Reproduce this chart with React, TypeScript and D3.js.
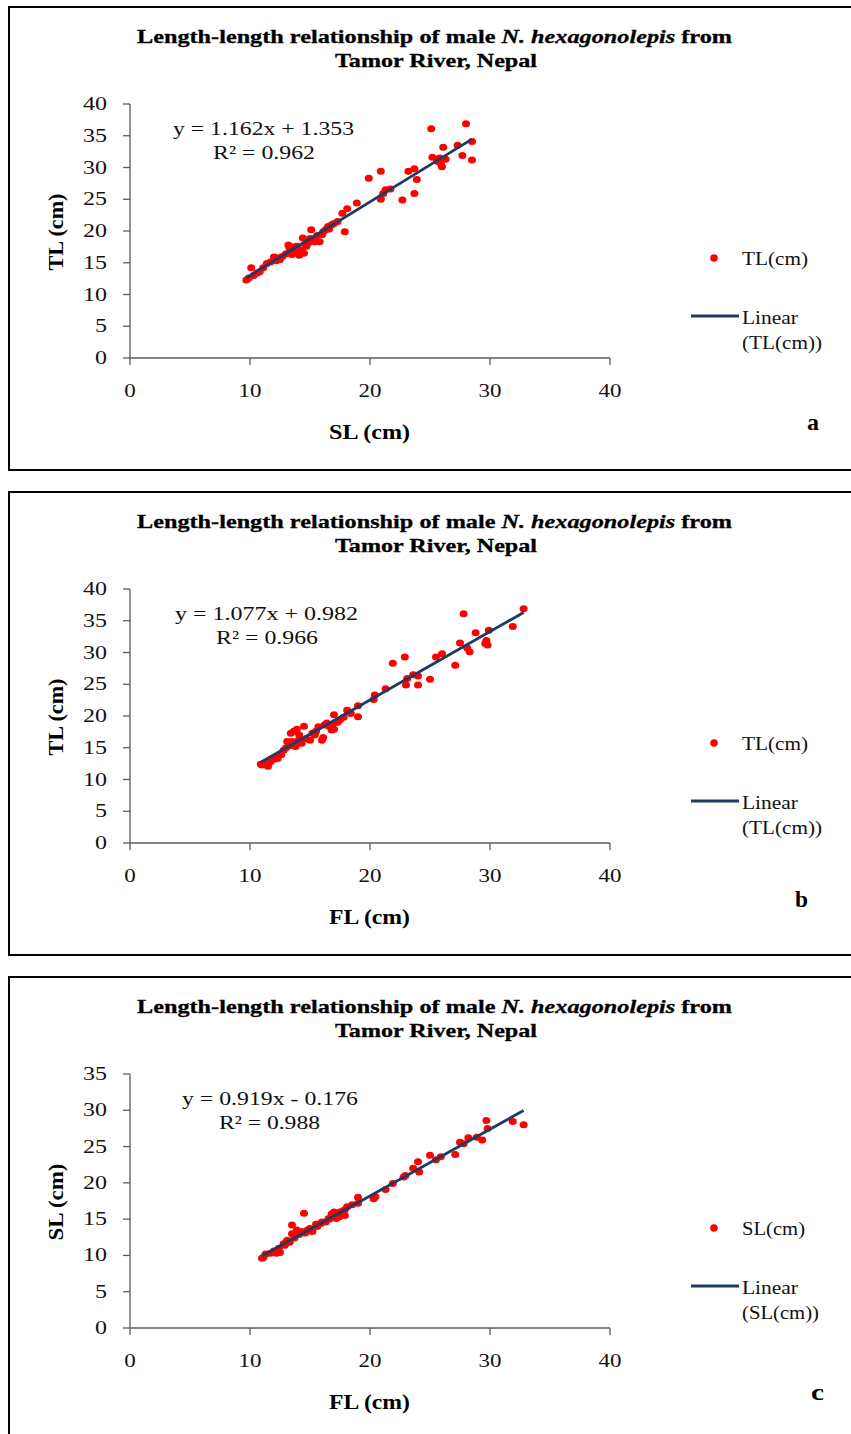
import React from 'react';
import * as d3 from 'd3';

// ---------- data ----------
const aSL = [9.7, 9.9, 10.1, 10.3, 10.6, 10.8, 11.1, 11.4, 11.7, 12.0, 12.2, 12.5, 12.7, 13.0, 13.2, 13.3, 13.5, 13.7, 13.9, 14.1, 14.3, 14.5, 14.4, 14.7, 14.9, 15.1, 15.2, 15.4, 15.6, 15.8, 16.1, 16.3, 16.5, 16.8, 17.0, 17.3, 17.7, 17.9, 18.1, 18.9, 19.9, 20.9, 20.9, 21.1, 21.3, 21.7, 22.7, 23.2, 23.7, 23.7, 23.9, 25.1, 25.2, 25.6, 25.8, 25.9, 26.0, 26.1, 26.3, 27.3, 27.7, 28.0, 28.5, 28.5, 12.4, 13.6, 14.0, 14.6, 15.0, 16.0, 16.6];
const aTL = [12.3, 12.6, 14.2, 13.0, 13.4, 13.6, 14.2, 14.9, 15.1, 15.9, 15.3, 15.5, 16.0, 16.4, 17.8, 17.3, 16.3, 16.7, 17.6, 16.2, 17.0, 16.5, 18.9, 17.6, 18.2, 20.2, 18.6, 18.3, 19.3, 18.3, 19.9, 20.2, 20.7, 21.0, 21.2, 21.5, 22.8, 19.9, 23.5, 24.4, 28.3, 29.4, 25.0, 25.9, 26.5, 26.6, 24.9, 29.4, 29.8, 25.9, 28.1, 36.1, 31.6, 31.0, 31.5, 30.6, 30.1, 33.2, 31.3, 33.5, 31.9, 36.9, 34.1, 31.2, 15.8, 17.5, 16.5, 17.9, 18.8, 19.4, 20.3];

const bFL = [10.9, 11.0, 11.3, 11.5, 11.7, 12.0, 12.3, 12.6, 12.8, 13.1, 13.3, 13.4, 13.5, 13.65, 13.8, 13.9, 14.1, 14.3, 14.5, 14.7, 15.0, 15.2, 15.5, 15.7, 16.0, 16.1, 16.2, 16.4, 16.6, 16.8, 17.0, 17.0, 17.3, 17.5, 17.8, 18.1, 18.4, 19.0, 19.0, 20.3, 20.4, 21.3, 21.9, 22.9, 23.0, 23.1, 23.6, 24.0, 24.0, 25.0, 25.5, 26.0, 27.1, 27.5, 27.8, 28.1, 28.3, 28.8, 29.6, 29.7, 29.8, 29.9, 31.9, 32.8, 12.2, 13.0, 14.0, 15.4, 16.9];
const bTL = [12.4, 12.3, 12.6, 12.1, 12.8, 13.2, 13.3, 13.9, 14.6, 16.0, 15.3, 17.3, 16.0, 17.6, 15.2, 17.9, 17.0, 15.7, 18.4, 16.4, 16.2, 17.3, 17.6, 18.3, 16.2, 16.6, 18.6, 18.9, 18.4, 17.8, 20.2, 17.9, 19.0, 19.4, 19.8, 20.9, 20.4, 21.6, 19.9, 22.6, 23.3, 24.3, 28.3, 29.3, 24.9, 25.9, 26.5, 26.3, 24.9, 25.8, 29.3, 29.8, 28.0, 31.5, 36.1, 30.7, 30.1, 33.1, 31.4, 31.9, 31.2, 33.5, 34.1, 36.9, 13.6, 15.0, 16.1, 17.0, 18.7];

const cFL = [11.0, 11.1, 11.3, 11.7, 12.0, 12.2, 12.4, 12.5, 12.8, 13.1, 13.3, 13.5, 13.5, 13.7, 13.9, 14.1, 14.3, 14.5, 14.8, 15.0, 15.2, 15.5, 15.6, 15.9, 16.0, 16.3, 16.55, 16.8, 17.0, 17.2, 17.4, 17.5, 17.9, 17.9, 18.1, 18.5, 19.0, 19.0, 20.3, 20.45, 21.3, 21.9, 22.8, 22.95, 23.6, 24.0, 24.1, 25.0, 25.5, 25.9, 27.1, 27.5, 27.8, 28.2, 28.9, 29.35, 29.7, 29.8, 31.9, 32.8, 12.9, 14.6, 16.6, 17.7];
const cSL = [9.6, 9.7, 10.2, 10.3, 10.6, 10.3, 11.0, 10.4, 11.6, 12.1, 11.8, 14.2, 13.0, 12.4, 13.5, 12.9, 13.3, 15.8, 13.5, 13.7, 13.3, 14.3, 14.0, 14.4, 14.6, 14.6, 15.1, 15.7, 16.0, 15.1, 15.3, 16.0, 15.5, 16.3, 16.7, 17.0, 18.0, 17.2, 17.8, 18.1, 19.1, 19.9, 20.8, 21.0, 22.0, 22.9, 21.5, 23.8, 23.2, 23.6, 23.9, 25.6, 25.4, 26.2, 26.3, 25.9, 28.6, 27.5, 28.45, 28.0, 11.4, 13.1, 15.0, 16.1];

const xTicks = [0, 10, 20, 30, 40];
const yTicksAB = [0, 5, 10, 15, 20, 25, 30, 35, 40];
const yTicksC = [0, 5, 10, 15, 20, 25, 30, 35];

const fitSlope = [1.162, 1.077, 0.919];
const fitIntercept = [1.353, 0.982, -0.176];
const fitFrom = [9.7, 10.9, 11.0];
const fitTo = [28.5, 32.8, 32.8];

const equationText = ['y = 1.162x + 1.353', 'y = 1.077x + 0.982', 'y = 0.919x - 0.176'];
const r2Text = ['R\u00B2 = 0.962', 'R\u00B2 = 0.966', 'R\u00B2 = 0.988'];
const xTitles = ['SL (cm)', 'FL (cm)', 'FL (cm)'];
const yTitles = ['TL (cm)', 'TL (cm)', 'SL (cm)'];
const seriesNames = ['TL(cm)', 'TL(cm)', 'SL(cm)'];
const panelLetters = ['a', 'b', 'c'];
const titleStart = 'Length-length relationship of male ';
const titleItalic = 'N. hexagonolepis';
const titleEnd = '  from';
const titleLine2 = 'Tamor River, Nepal';

const panelX = [aSL, bFL, cFL];
const panelY = [aTL, bTL, cSL];
const panelYMax = [40, 40, 35];
const panelYTicks = [yTicksAB, yTicksAB, yTicksC];

// ---------- layout ----------
const W = 851;
const H = 1434;
const SERIF = '"Liberation Serif", "Times New Roman", Times, serif';
const RED = '#ff0000';
const NAVY = '#1f3b62';
const AXIS = '#5b5b5b';
const eqLayout = [
  { ex: 173, ew: 181, rx: 213, rw: 102 },
  { ex: 175, ew: 183, rx: 216, rw: 102 },
  { ex: 182, ew: 176, rx: 219, rw: 101 },
];
const letterLayout = [
  { x: 807, dy: 430, w: 12 },
  { x: 795, dy: 422, w: 13 },
  { x: 811, dy: 430, w: 13 },
];

function Panel({ i }: { i: number }) {
  const off = i * 485;
  const x = d3.scaleLinear().domain([0, 40]).range([130, 610]);
  const y = d3.scaleLinear().domain([0, panelYMax[i]]).range([358 + off, 104 + off]);
  const xs = panelX[i];
  const ys = panelY[i];
  const line = d3
    .line<number>()
    .x((d) => x(d))
    .y((d) => y(fitSlope[i] * d + fitIntercept[i]));
  const fitPath = line([fitFrom[i], fitTo[i]]) || '';
  const eq = eqLayout[i];
  const lt = letterLayout[i];
  const yTitleCx = 56;
  const yTitleCy = 232 + off;

  return (
    <g>
      {/* frame */}
      <rect x={9} y={7 + off} width={W + 20} height={463} fill="none" stroke="#000" strokeWidth={2} />

      {/* title */}
      <text
        x={434.5}
        y={43 + off}
        textAnchor="middle"
        fontFamily={SERIF}
        fontWeight="bold"
        fontSize={19}
        textLength={595}
        lengthAdjust="spacingAndGlyphs"
        fill="#000"
        stroke="#000"
        strokeWidth={0.3}
      >
        {titleStart}
        <tspan fontStyle="italic">{titleItalic}</tspan>
        {titleEnd}
      </text>
      <text
        x={436}
        y={67 + off}
        textAnchor="middle"
        fontFamily={SERIF}
        fontWeight="bold"
        fontSize={19}
        textLength={202}
        lengthAdjust="spacingAndGlyphs"
        fill="#000"
        stroke="#000"
        strokeWidth={0.3}
      >
        {titleLine2}
      </text>

      {/* axes */}
      <line x1={130} x2={130} y1={y(panelYMax[i])} y2={y(0)} stroke={AXIS} strokeWidth={1.3} />
      <line x1={130} x2={610} y1={y(0)} y2={y(0)} stroke={AXIS} strokeWidth={1.3} />
      {panelYTicks[i].map((t) => (
        <g key={'yt' + t}>
          <line x1={123} x2={130} y1={y(t)} y2={y(t)} stroke={AXIS} strokeWidth={1.3} />
          <text
            x={107}
            y={y(t) + 6}
            textAnchor="end"
            fontFamily={SERIF}
            fontSize={18}
            textLength={String(t).length * 12}
            lengthAdjust="spacingAndGlyphs"
            fill="#111"
          >
            {t}
          </text>
        </g>
      ))}
      {xTicks.map((t) => (
        <g key={'xt' + t}>
          <line x1={x(t)} x2={x(t)} y1={y(0)} y2={y(0) + 7} stroke={AXIS} strokeWidth={1.3} />
          <text
            x={x(t)}
            y={y(0) + 39}
            textAnchor="middle"
            fontFamily={SERIF}
            fontSize={18}
            textLength={String(t).length * 11.5}
            lengthAdjust="spacingAndGlyphs"
            fill="#111"
          >
            {t}
          </text>
        </g>
      ))}

      {/* axis titles */}
      <text
        x={369.5}
        y={439 + off}
        textAnchor="middle"
        fontFamily={SERIF}
        fontWeight="bold"
        fontSize={20}
        textLength={81}
        lengthAdjust="spacingAndGlyphs"
        fill="#000"
      >
        {xTitles[i]}
      </text>
      <text
        transform={`translate(${yTitleCx + 7},${yTitleCy}) rotate(-90)`}
        textAnchor="middle"
        fontFamily={SERIF}
        fontWeight="bold"
        fontSize={20}
        textLength={77}
        lengthAdjust="spacingAndGlyphs"
        fill="#000"
      >
        {yTitles[i]}
      </text>

      {/* points */}
      {xs.map((v, k) => (
        <ellipse key={'p' + k} cx={x(v)} cy={y(ys[k])} rx={4} ry={3.5} fill={RED} />
      ))}

      {/* trend line */}
      <path d={fitPath} fill="none" stroke={NAVY} strokeWidth={2.8} />

      {/* equation */}
      <text
        x={eq.ex}
        y={135 + off}
        fontFamily={SERIF}
        fontSize={19}
        textLength={eq.ew}
        lengthAdjust="spacingAndGlyphs"
        fill="#111"
      >
        {equationText[i]}
      </text>
      <text
        x={eq.rx}
        y={159 + off}
        fontFamily={SERIF}
        fontSize={19}
        textLength={eq.rw}
        lengthAdjust="spacingAndGlyphs"
        fill="#111"
      >
        {r2Text[i]}
      </text>

      {/* legend */}
      <circle cx={714} cy={258 + off} r={3.8} fill={RED} />
      <text
        x={742}
        y={265 + off}
        fontFamily={SERIF}
        fontSize={18}
        textLength={i === 2 ? 63 : 66}
        lengthAdjust="spacingAndGlyphs"
        fill="#111"
      >
        {seriesNames[i]}
      </text>
      <line x1={691} x2={739} y1={316 + off} y2={316 + off} stroke={NAVY} strokeWidth={3} />
      <text x={742} y={324 + off} fontFamily={SERIF} fontSize={18} textLength={56} lengthAdjust="spacingAndGlyphs" fill="#111">
        Linear
      </text>
      <text
        x={742}
        y={349 + off}
        fontFamily={SERIF}
        fontSize={18}
        textLength={i === 2 ? 77 : 80}
        lengthAdjust="spacingAndGlyphs"
        fill="#111"
      >
        {'(' + seriesNames[i] + ')'}
      </text>

      {/* panel letter */}
      <text
        x={lt.x}
        y={lt.dy + off}
        fontFamily={SERIF}
        fontWeight="bold"
        fontSize={24}
        textLength={lt.w}
        lengthAdjust="spacingAndGlyphs"
        fill="#000"
      >
        {panelLetters[i]}
      </text>
    </g>
  );
}

export default function App() {
  return (
    <svg
      width={W}
      height={H}
      viewBox={`0 0 ${W} ${H}`}
      style={{ position: 'absolute', left: 0, top: 0, background: '#fff' }}
    >
      <rect x={0} y={0} width={W} height={H} fill="#fff" />
      {panelLetters.map((_, i) => (
        <Panel key={i} i={i} />
      ))}
    </svg>
  );
}
